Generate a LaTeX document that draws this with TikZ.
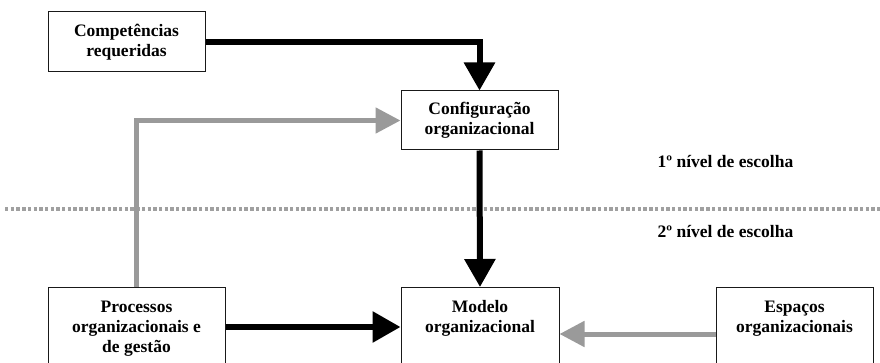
\documentclass[tikz,border=0pt]{standalone}
\usepackage{fontspec}
\setmainfont{Liberation Serif}
\usetikzlibrary{arrows.meta}
\definecolor{arrowgray}{HTML}{9A9A9A}
\definecolor{dotgray}{HTML}{A0A0A0}
\tikzset{
  box/.style={draw=black!90, line width=1pt, fill=white, inner sep=0pt},
  txt/.style={font=\bfseries\fontsize{17.5}{20}\selectfont, align=center, inner sep=0pt},
  blackflow/.style={draw=black, line width=6pt,
    -{Triangle[width=30pt,length=28pt]}},
  grayflow/.style={draw=arrowgray, line width=5pt,
    -{Triangle[width=25pt,length=25pt]}},
  levelline/.style={draw=dotgray, line width=4pt, dash pattern=on 3.4pt off 2.3pt}
}
\begin{document}
\begin{tikzpicture}[x=1pt,y=-1pt]
\useasboundingbox (0,0) rectangle (880,363);
\clip (0,0) rectangle (880,363);

% boundary between the two levels of choice
\coordinate (lvlA) at (5,209);
\coordinate (lvlB) at (880,209);
\draw[levelline] (lvlA) -- (lvlB);

% boxes (the base anchor of a multi-line node sits on its last line)
\node[box, minimum width=157pt, minimum height=60pt] (comp) at (126.5,42) {};
\node[txt] (compT) at (comp.center) {Competências\\requeridas};

\node[box, minimum width=157pt, minimum height=59pt] (conf) at (479.5,120.5) {};
\node[txt] (confT) at (conf.center) {Configuração\\organizacional};

\node[box, anchor=north, minimum width=177pt, minimum height=110pt] (proc) at (136.5,287) {};
\node[txt, anchor=base] (procT) at ([yshift=-65pt]proc.north) {Processos\\organizacionais e\\de gestão};

\node[box, anchor=north, minimum width=158pt, minimum height=110pt] (mod) at (480,287) {};
\node[txt, anchor=base] (modT) at ([yshift=-45pt]mod.north) {Modelo\\organizacional};

\node[box, anchor=north, minimum width=157pt, minimum height=110pt] (esp) at (794.5,287) {};
\node[txt, anchor=base] (espT) at ([yshift=-45pt]esp.north) {Espaços\\organizacionais};

% level labels
\node[txt, anchor=base] (lvl1) at (725.5,168) {1º nível de escolha};
\node[txt, anchor=base] (lvl2) at (725.5,238) {2º nível de escolha};

% connectors
\draw[grayflow] (proc.north) |- (conf.west);
\draw[blackflow] (comp.east) -| (conf.north);
\draw[blackflow] (conf.south) -- (mod.north);
\draw[blackflow] ([yshift=-40pt]proc.north east) -- ([yshift=-40pt]mod.north west);
\draw[grayflow] ([yshift=-47pt]esp.north west) -- ([yshift=-47pt]mod.north east);
\end{tikzpicture}
\end{document}
